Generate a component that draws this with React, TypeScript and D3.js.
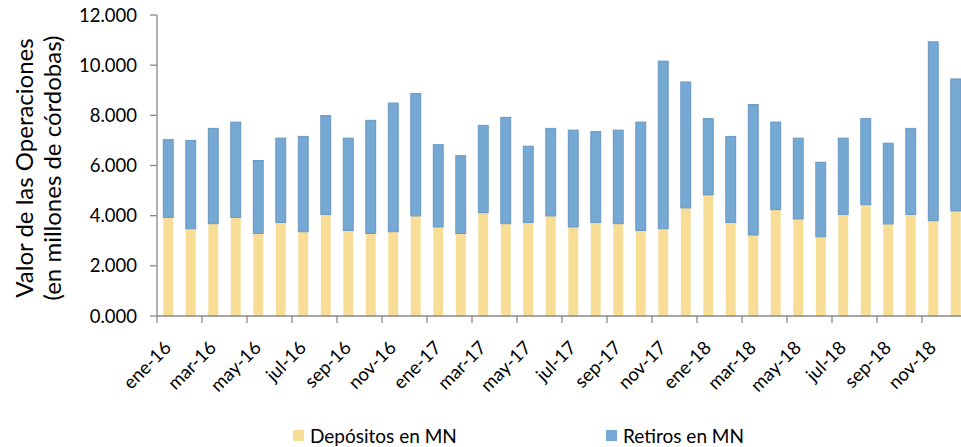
import React from "react";
import * as d3 from "d3";

const months = [
  "ene-16","feb-16","mar-16","abr-16","may-16","jun-16","jul-16","ago-16","sep-16","oct-16","nov-16","dic-16",
  "ene-17","feb-17","mar-17","abr-17","may-17","jun-17","jul-17","ago-17","sep-17","oct-17","nov-17","dic-17",
  "ene-18","feb-18","mar-18","abr-18","may-18","jun-18","jul-18","ago-18","sep-18","oct-18","nov-18","dic-18",
];
const depositos = [
  3930,3480,3680,3930,3290,3730,3360,4050,3410,3290,3360,3990,
  3550,3290,4120,3680,3730,3990,3550,3730,3680,3410,3480,4310,
  4830,3730,3230,4240,3870,3160,4050,4440,3670,4050,3800,4190,
];
const totales = [
  7030,7000,7480,7730,6200,7090,7160,7990,7090,7800,8490,8870,
  6830,6390,7600,7920,6770,7480,7410,7350,7410,7730,10160,9330,
  7870,7160,8430,7730,7090,6130,7090,7870,6890,7480,10930,9450,
];
const yTicks = [0, 2000, 4000, 6000, 8000, 10000, 12000];
const seriesNames = ["Depósitos en MN", "Retiros en MN"];
const colors = ["#f8dd97", "#75a8d2"];

const FONT = "Lato, 'Open Sans', sans-serif";

export default function App() {
  const W = 961, H = 447;
  const x0 = 157, step = 22.5;
  const x = d3.scaleBand<string>().domain(months).range([x0, x0 + step * months.length]).paddingInner(0.56).paddingOuter(0.28);
  const xb = d3.scaleBand<string>().domain(months).range([x0, x0 + step * months.length]);
  const y = d3.scaleLinear().domain([0, 12000]).range([316, 15]);
  const fmt = (v: number) => d3.format(",.3f")(v / 1000).replace(",", ".");
  const axisColor = "#898989";

  return (
    <svg width={W} height={H} style={{ position: "absolute", left: 0, top: 0, background: "#fff" }} fontFamily={FONT}>
      {months.map((m, i) => {
        const bx = x(m)!;
        const bw = x.bandwidth();
        return (
          <g key={m}>
            <rect x={bx} y={y(depositos[i])} width={bw} height={y(0) - y(depositos[i])} fill={colors[0]} />
            <rect x={bx} y={y(totales[i])} width={bw} height={y(depositos[i]) - y(totales[i])} fill={colors[1]} stroke="#6898c3" strokeWidth={1} />
          </g>
        );
      })}
      <line x1={x0} x2={x0} y1={y(12000)} y2={y(0)} stroke={axisColor} strokeWidth={1.3} />
      {yTicks.map((t) => (
        <g key={t}>
          <line x1={x0 - 7} x2={x0} y1={y(t)} y2={y(t)} stroke={axisColor} strokeWidth={1.3} />
          <text x={137} y={y(t)} dy="0.36em" textAnchor="end" fontSize={18.5} fill="#000">{fmt(t)}</text>
        </g>
      ))}
      <line x1={x0} x2={W} y1={y(0)} y2={y(0)} stroke={axisColor} strokeWidth={1.3} />
      {months.map((m, i) =>
        i % 2 === 0 ? (
          <line key={"t" + m} x1={xb(m)!} x2={xb(m)!} y1={y(0)} y2={y(0) + 7} stroke={axisColor} strokeWidth={1.3} />
        ) : null
      )}
      {months.map((m, i) =>
        i % 2 === 0 ? (
          <text key={"l" + m} transform={`translate(${xb(m)! + xb.bandwidth() / 2 + 4},${349}) rotate(-45)`} textAnchor="end" fontSize={18.5} fill="#000">{m}</text>
        ) : null
      )}
      <g transform="translate(33,168) rotate(-90)">
        <text x={0} y={0} textAnchor="middle" fontSize={24} fill="#000">Valor de las Operaciones</text>
        <text x={0} y={28} textAnchor="middle" fontSize={24} fill="#000">(en millones de córdobas)</text>
      </g>
      <rect x={293} y={430} width={11} height={11} fill={colors[0]} />
      <text x={310} y={443} fontSize={19} fill="#000">{seriesNames[0]}</text>
      <rect x={606} y={430} width={11} height={11} fill={colors[1]} />
      <text x={623} y={443} fontSize={19} fill="#000">{seriesNames[1]}</text>
    </svg>
  );
}
